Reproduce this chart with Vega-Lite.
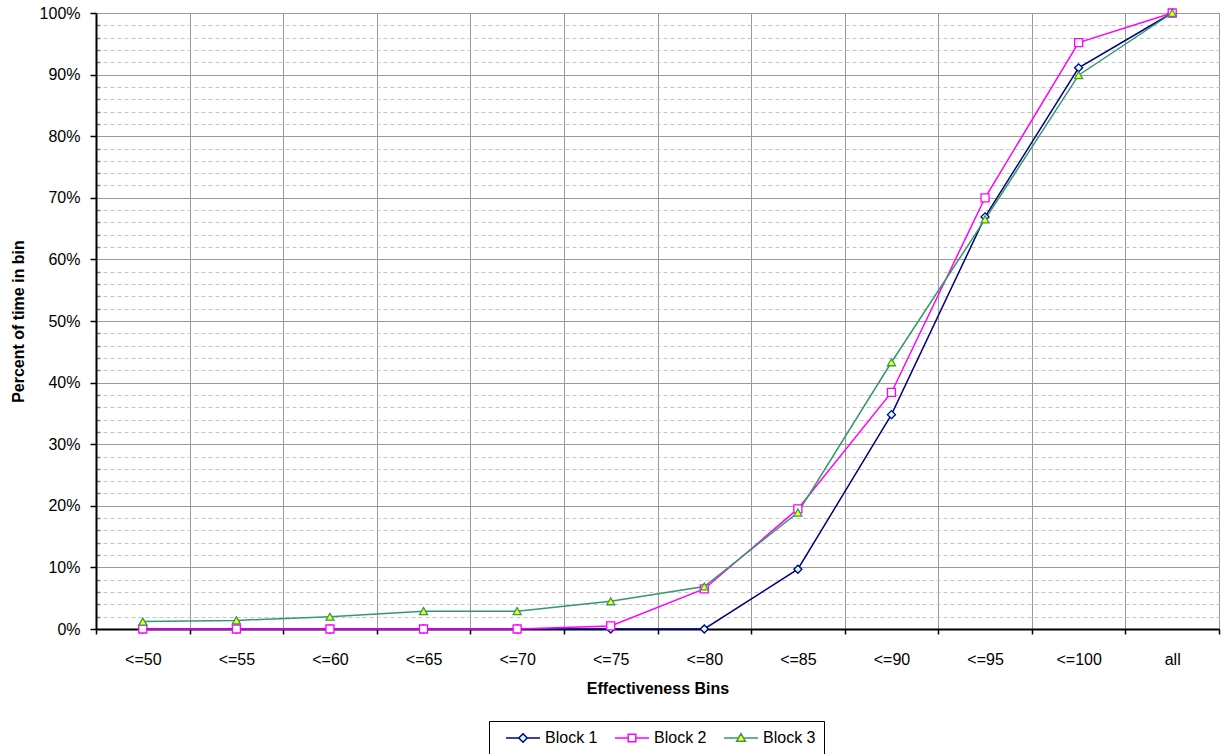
{
  "$schema": "https://vega.github.io/schema/vega-lite/v6.json",
  "width": 1123,
  "height": 616,
  "autosize": "none",
  "padding": {"left": 96, "top": 13, "right": 5, "bottom": 125},
  "background": "white",
  "config": {
    "font": "Liberation Sans",
    "view": {"stroke": "#808080", "strokeWidth": 1},
    "legend": {
      "orient": "none",
      "legendX": 393,
      "legendY": 708,
      "direction": "horizontal",
      "strokeColor": "black",
      "padding": 8,
      "labelFontSize": 16,
      "labelColor": "black",
      "labelOffset": 22,
      "symbolOffset": 8,
      "columnPadding": 8,
      "symbolSize": 256,
      "symbolStrokeWidth": 1.5
    }
  },
  "data": {
    "values": [
      {"series": "Block 1", "bin": "<=50", "value": 0},
      {"series": "Block 1", "bin": "<=55", "value": 0},
      {"series": "Block 1", "bin": "<=60", "value": 0},
      {"series": "Block 1", "bin": "<=65", "value": 0},
      {"series": "Block 1", "bin": "<=70", "value": 0},
      {"series": "Block 1", "bin": "<=75", "value": 0},
      {"series": "Block 1", "bin": "<=80", "value": 0},
      {"series": "Block 1", "bin": "<=85", "value": 0.097},
      {"series": "Block 1", "bin": "<=90", "value": 0.348},
      {"series": "Block 1", "bin": "<=95", "value": 0.669},
      {"series": "Block 1", "bin": "<=100", "value": 0.911},
      {"series": "Block 1", "bin": "all", "value": 1.0},
      {"series": "Block 2", "bin": "<=50", "value": 0},
      {"series": "Block 2", "bin": "<=55", "value": 0},
      {"series": "Block 2", "bin": "<=60", "value": 0},
      {"series": "Block 2", "bin": "<=65", "value": 0},
      {"series": "Block 2", "bin": "<=70", "value": 0},
      {"series": "Block 2", "bin": "<=75", "value": 0.005},
      {"series": "Block 2", "bin": "<=80", "value": 0.065},
      {"series": "Block 2", "bin": "<=85", "value": 0.195},
      {"series": "Block 2", "bin": "<=90", "value": 0.384},
      {"series": "Block 2", "bin": "<=95", "value": 0.700},
      {"series": "Block 2", "bin": "<=100", "value": 0.952},
      {"series": "Block 2", "bin": "all", "value": 1.0},
      {"series": "Block 3", "bin": "<=50", "value": 0.012},
      {"series": "Block 3", "bin": "<=55", "value": 0.014},
      {"series": "Block 3", "bin": "<=60", "value": 0.020},
      {"series": "Block 3", "bin": "<=65", "value": 0.029},
      {"series": "Block 3", "bin": "<=70", "value": 0.029},
      {"series": "Block 3", "bin": "<=75", "value": 0.045},
      {"series": "Block 3", "bin": "<=80", "value": 0.069},
      {"series": "Block 3", "bin": "<=85", "value": 0.189},
      {"series": "Block 3", "bin": "<=90", "value": 0.433},
      {"series": "Block 3", "bin": "<=95", "value": 0.665},
      {"series": "Block 3", "bin": "<=100", "value": 0.899},
      {"series": "Block 3", "bin": "all", "value": 1.0}
    ]
  },
  "encoding": {
    "x": {
      "field": "bin",
      "type": "ordinal",
      "sort": ["<=50", "<=55", "<=60", "<=65", "<=70", "<=75", "<=80", "<=85", "<=90", "<=95", "<=100", "all"],
      "bandPosition": 0.5,
      "scale": {"type": "band", "paddingInner": 0, "paddingOuter": 0},
      "axis": {
        "title": "Effectiveness Bins",
        "titleFontSize": 16,
        "titleFontWeight": "bold",
        "titleColor": "black",
        "titlePadding": 13,
        "labelAngle": 0,
        "labelFontSize": 16,
        "labelColor": "black",
        "labelPadding": 17,
        "tickBand": "extent",
        "tickSize": 5,
        "tickColor": "black",
        "tickWidth": 1.5,
        "domainColor": "black",
        "domainWidth": 2,
        "grid": true,
        "gridColor": "#999999",
        "gridWidth": 1
      }
    },
    "y": {
      "field": "value",
      "type": "quantitative",
      "scale": {"domain": [0, 1], "nice": false},
      "axis": {
        "values": [0, 0.02, 0.04, 0.06, 0.08, 0.1, 0.12, 0.14, 0.16, 0.18, 0.2, 0.22, 0.24, 0.26, 0.28, 0.3, 0.32, 0.34, 0.36, 0.38, 0.4, 0.42, 0.44, 0.46, 0.48, 0.5, 0.52, 0.54, 0.56, 0.58, 0.6, 0.62, 0.64, 0.66, 0.68, 0.7, 0.72, 0.74, 0.76, 0.78, 0.8, 0.82, 0.84, 0.86, 0.88, 0.9, 0.92, 0.94, 0.96, 0.98, 1.0],
        "format": ".0%",
        "labelExpr": "round(datum.value*100) % 10 == 0 ? datum.label : ''",
        "labelOverlap": false,
        "labelFontSize": 16,
        "labelColor": "black",
        "labelPadding": 10,
        "tickSize": {"condition": {"test": "round(datum.value*100) % 10 != 0", "value": -4}, "value": 6},
        "tickColor": {"condition": {"test": "round(datum.value*100) % 10 != 0", "value": "#808080"}, "value": "black"},
        "tickWidth": 1.5,
        "gridColor": {"condition": {"test": "round(datum.value*100) % 10 != 0", "value": "#c4c4c4"}, "value": "#999999"},
        "gridDash": {"condition": {"test": "round(datum.value*100) % 10 != 0", "value": [4, 3]}, "value": []},
        "gridWidth": 1,
        "domainColor": "black",
        "domainWidth": 2,
        "title": "Percent of time in bin",
        "titleFontSize": 16,
        "titleFontWeight": "bold",
        "titleColor": "black",
        "titlePadding": 13
      }
    }
  },
  "layer": [
    {
      "mark": {"type": "line", "strokeWidth": 1.5},
      "encoding": {
        "stroke": {
          "field": "series",
          "type": "nominal",
          "scale": {"domain": ["Block 1", "Block 2", "Block 3"], "range": ["#000080", "#FF00FF", "#339966"]},
          "legend": null
        }
      }
    },
    {
      "mark": {"type": "point", "filled": true, "size": 64, "strokeWidth": 1.3, "opacity": 1},
      "encoding": {
        "shape": {
          "field": "series",
          "type": "nominal",
          "scale": {"domain": ["Block 1", "Block 2", "Block 3"], "range": ["diamond", "square", "triangle-up"]},
          "legend": null
        },
        "fill": {
          "field": "series",
          "type": "nominal",
          "scale": {"domain": ["Block 1", "Block 2", "Block 3"], "range": ["#CCFFFF", "#FFFFFF", "#FFFF00"]},
          "legend": null
        },
        "stroke": {
          "field": "series",
          "type": "nominal",
          "scale": {"domain": ["Block 1", "Block 2", "Block 3"], "range": ["#000080", "#FF00FF", "#339966"]},
          "legend": null
        }
      }
    },
    {
      "transform": [{"filter": "false"}],
      "mark": {"type": "point", "filled": true, "opacity": 1},
      "encoding": {
        "shape": {
          "field": "series",
          "type": "nominal",
          "scale": {"domain": ["Block 1", "Block 2", "Block 3"], "range": ["M-1,0H0.6M1.65,0H3.25M1.125,-0.52L1.65,0L1.125,0.52L0.6,0Z", "M-1,0H0.65M1.6,0H3.25M0.65,-0.47H1.6V0.47H0.65Z", "M-1,0H0.82M1.43,0H3.25M1.125,-0.55L1.67,0.4H0.58Z"]},
          "legend": {"title": null}
        },
        "fill": {
          "field": "series",
          "type": "nominal",
          "scale": {"domain": ["Block 1", "Block 2", "Block 3"], "range": ["#CCFFFF", "#FFFFFF", "#FFFF00"]},
          "legend": {"title": null}
        },
        "stroke": {
          "field": "series",
          "type": "nominal",
          "scale": {"domain": ["Block 1", "Block 2", "Block 3"], "range": ["#000080", "#FF00FF", "#339966"]},
          "legend": {"title": null}
        }
      }
    }
  ],
  "resolve": {"scale": {"shape": "independent", "fill": "independent", "stroke": "independent"}}
}
